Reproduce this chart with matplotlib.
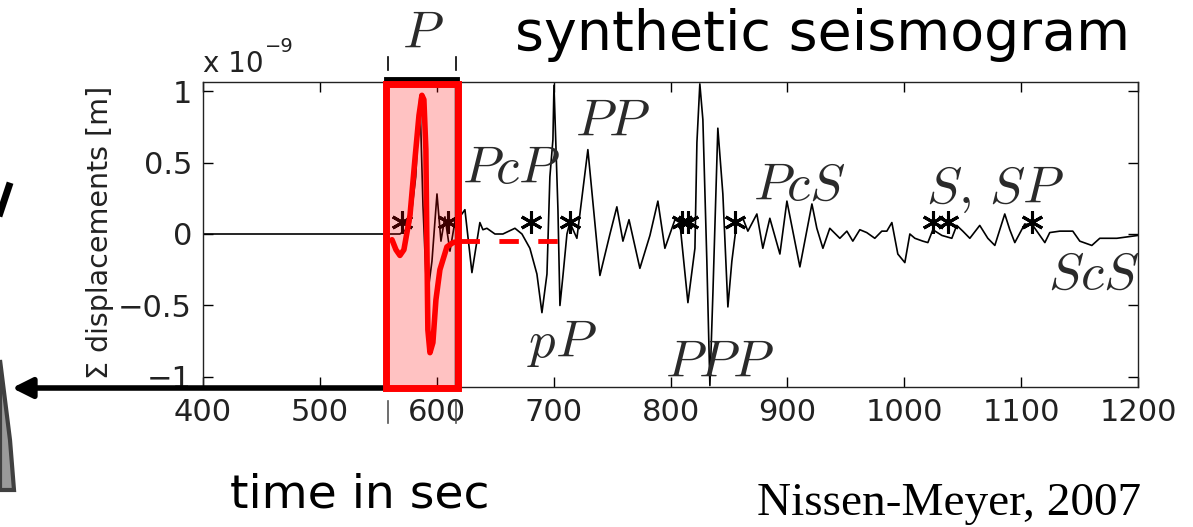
import matplotlib
matplotlib.use('Agg')
import matplotlib.pyplot as plt
from matplotlib.patches import Rectangle, Polygon
from matplotlib.ticker import FuncFormatter

plt.rcParams['mathtext.fontset'] = 'cm'
plt.rcParams['font.family'] = 'DejaVu Sans'

# seismogram trace (time in s, displacement in 1e-9 m)
times = [400, 560, 568.5, 577, 582, 585.6, 588.2, 591.6, 595.9, 600.2, 603.6, 607, 611.3,
         615.6, 619.8, 624.1, 630.1, 636.9, 639.5, 642.9, 649.8, 656.6, 664.3, 666.9, 672.9,
         679.7, 685.7, 690.0, 694.3, 696.8, 699.4, 700.3, 703.7, 705.4, 708.0, 711.4, 713.9,
         719.9, 729.3, 739.6, 748.2, 754.1, 759.3, 764.5, 773.8, 782.4, 789.2, 795.2, 803.8,
         808.0, 814.9, 820.9, 822.6, 825.1, 827.7, 831.1, 833.7, 836.3, 840.5, 844.8, 849.1,
         852.5, 856.8, 861.9, 866.2, 873.9, 879.0, 885.0, 893.6, 899.6, 910.7, 921.0, 925.2,
         930.4, 936.3, 944.9, 950.9, 956.0, 962.0, 967.9, 974.8, 980.8, 985.1, 989.4, 994.5,
         1000.5, 1004.8, 1009.1, 1015.9, 1020.2, 1024.5, 1032.2, 1040.7, 1044.9, 1050.1,
         1056.1, 1064.6, 1071.5, 1077.5, 1086.0, 1090.3, 1094.6, 1103.1, 1110.0, 1120.3,
         1124.5, 1133.1, 1144.2, 1150.2, 1160.5, 1167.3, 1181.9, 1200]
disp = [0, 0, 0, 0.05, 0.4, 0.97, 0.2, -0.46, -0.19, 0.28, -0.05, 0.12, -0.12,
        0.09, 0.12, 0.17, -0.27, 0.08, 0.03, 0.04, 0.0, 0.0, 0.03, 0.04, 0.0,
        -0.10, -0.28, -0.55, -0.28, 0.40, 0.66, 1.04, 0.17, -0.50, -0.29, 0.0, 0.08,
        -0.03, 0.59, -0.29, 0.0, 0.19, -0.05, 0.10, -0.24, -0.01, 0.23, -0.10, 0.10,
        0.08, -0.48, -0.10, 0.64, 1.05, 0.80, -0.19, -1.06, -0.41, 0.74, 0.28, -0.51,
        -0.19, 0.09, 0.11, 0.02, 0.14, -0.10, 0.11, -0.14, 0.23, -0.23, 0.21, 0.04,
        -0.10, 0.04, -0.03, 0.02, -0.05, 0.03, 0.01, -0.03, 0.02, 0.02, 0.08, -0.14,
        -0.20, 0.0, -0.03, -0.05, -0.06, 0.03, -0.01, -0.03, 0.06, 0.02,
        -0.03, 0.06, -0.03, -0.08, 0.14, 0.03, -0.06, 0.07, 0.06, -0.06,
        0.01, 0.02, 0.02, -0.05, -0.08, -0.03, -0.03, -0.01]
assert len(times) == len(disp)

# phase arrival markers
star_t = [570.2, 609.6, 680.6, 713.9, 809.7, 814.9, 855.1, 1024.5, 1037.3, 1109.1]
star_y = [0.084] * len(star_t)

# phase names: (label, time, baseline amplitude)
phases = [(r'$PcP$', 621.6, 0.36), (r'$PP$', 718, 0.69), (r'$pP$', 677, -0.86),
          (r'$PPP$', 795, -1.0), (r'$PcS$', 870.5, 0.24), (r'$S,\,SP$', 1019, 0.22),
          (r'$ScS$', 1122.8, -0.38)]

# red sketched P wavelet
wave_t = [561.7, 565.1, 568.5, 571.9, 577.1, 581.3, 584.8, 587.3, 589.0, 590.7, 591.6,
          592.4, 594.2, 596.7, 599.3, 602.7, 608.7, 613.9, 619.8]
wave_y = [-0.04, -0.11, -0.15, -0.11, 0.13, 0.52, 0.83, 0.97, 0.94, 0.59, -0.11,
          -0.67, -0.83, -0.76, -0.46, -0.25, -0.09, -0.06, -0.05]
dash_t = [619.8, 710]
dash_y = [-0.05, -0.05]

# P window
win_start, win_end = 557.0, 618.6

W, H = 1193, 527
fig = plt.figure(figsize=(W / 100, H / 100), dpi=100)
ax = fig.add_axes([203 / W, 1 - 387 / H, (1138 - 203) / W, (387 - 82) / H])
ax.set_xlim(400, 1200)
ax.set_ylim(-1.07, 1.063)

ax.plot(times, disp, color='black', lw=1.2, zorder=2)
ax.plot(star_t, star_y, ls='none', marker=(6, 2, 0), ms=16, mew=2.2, color='black', zorder=2.5)

for lab, t, y in phases:
    ax.text(t, y, lab, fontsize=38, color='#2a2a2a', ha='left', va='baseline', zorder=2)

ax.set_xticks(range(400, 1201, 100))
ax.set_yticks([-1, -0.5, 0, 0.5, 1])
ax.yaxis.set_major_formatter(FuncFormatter(lambda v, p: f'{v:g}'.replace('-', '\u2212')))
ax.tick_params(direction='in', top=True, right=True, length=7, width=1,
               labelsize=22, labelcolor='#222222', pad=8)
for s in ax.spines.values():
    s.set_linewidth(1.0)
    s.set_color('#222222')

# highlighted window
ax.add_patch(Rectangle((win_start, -1.08), win_end - win_start, 2.13, facecolor='red',
                       alpha=0.24, edgecolor='none', zorder=3, clip_on=False))
ax.plot([win_start + 1.3] * 2, [-1.07, 1.063], color='black', lw=1, ls=(0, (4, 3)), zorder=3.2)
ax.plot([win_end - 2.3] * 2, [-1.07, 1.063], color='black', lw=2.5, zorder=3.2)
ax.plot([win_start, win_end - 1], [1.085, 1.085], color='black', lw=3.5, zorder=3.2, clip_on=False)
for xx in (win_start + 1.3, win_end - 2.3):
    ax.plot([xx, xx], [1.15, 1.24], color='black', lw=1.2, clip_on=False)
    ax.plot([xx, xx], [-1.17, -1.32], color='#555555', lw=1.2, clip_on=False)
ax.add_patch(Rectangle((win_start, -1.08), win_end - win_start, 2.13, facecolor='none',
                       edgecolor='red', lw=5, zorder=4, clip_on=False))
ax.plot(wave_t, wave_y, color='red', lw=4, solid_joinstyle='round', solid_capstyle='round', zorder=5)
ax.plot(dash_t, dash_y, color='red', lw=3.5, ls=(0, (4, 4)), zorder=5)
ax.text((win_start + win_end) / 2, 1.30, r'$P$', fontsize=38, color='#2a2a2a',
        ha='center', va='baseline', clip_on=False)

# axis annotations
fig.text(203 / W, 1 - 72 / H, 'x 10', fontsize=20, color='#222222', va='baseline')
fig.text(265 / W, 1 - 52 / H, '\u22129', fontsize=14, color='#222222', va='baseline')
fig.text(100 / W, 1 - 232 / H, '\u03a3 displacements [m]', fontsize=20.5, color='#222222',
         rotation=90, ha='center', va='center')

fig.text(515 / W, 1 - 50 / H, 'synthetic seismogram', fontsize=40, color='black', va='baseline')
fig.text(230 / W, 1 - 508 / H, 'time in sec', fontsize=34, color='black', va='baseline')
fig.text(757 / W, 1 - 515 / H, 'Nissen-Meyer, 2007', fontsize=34, color='black',
         family='Liberation Serif', va='baseline')

# arrow to the left and slide decorations
ax.annotate('', xy=(12 / W, 1 - 388 / H), xytext=(385 / W, 1 - 388 / H),
            xycoords='figure fraction', textcoords='figure fraction',
            arrowprops=dict(arrowstyle='-|>', lw=4, color='black', mutation_scale=30,
                            shrinkA=0, shrinkB=0))
earth = Polygon([(0, 1 - 360 / H), (5 / W, 1 - 400 / H), (10 / W, 1 - 440 / H),
                 (14 / W, 1 - 490 / H), (0, 1 - 490 / H)], closed=True,
                transform=fig.transFigure, facecolor='#9a9a9a', edgecolor='#404040', lw=3)
fig.add_artist(earth)
fig.add_artist(plt.Line2D([0, 9 / W], [1 - 213 / H, 1 - 186 / H], transform=fig.transFigure,
                          color='black', lw=5))

fig.savefig('out.png', dpi=100)
